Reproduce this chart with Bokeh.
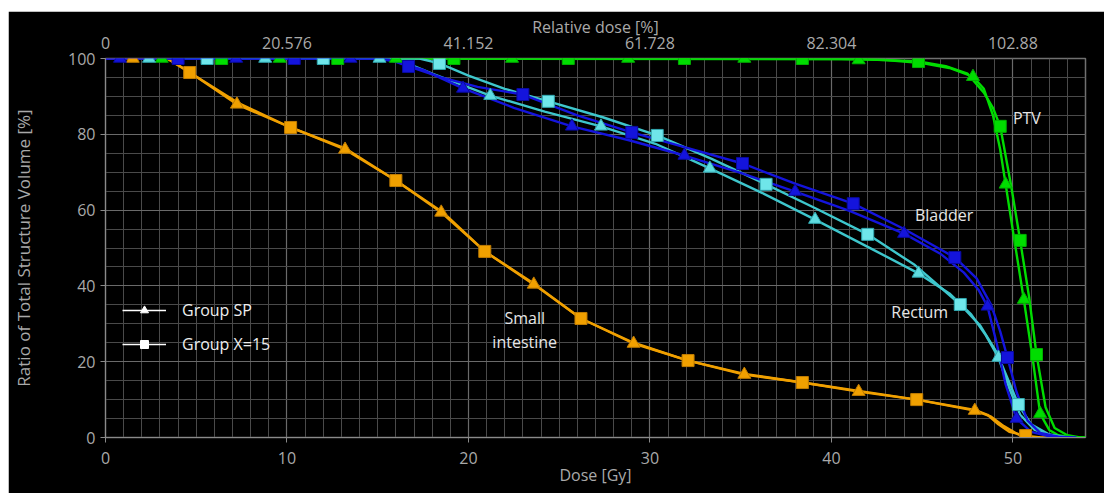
from bokeh.plotting import figure
from bokeh.models import (LinearAxis, FixedTicker, Legend, LegendItem, Range1d,
                          SingleIntervalTicker, ColumnDataSource, Spacer)
from bokeh.layouts import row, column
from bokeh.core.properties import value
from bokeh.embed import file_html
from bokeh.resources import INLINE

# ---------------- data ----------------
# Small intestine
si_sp_dose = [0, 3.4, 4.6, 7.24, 10.2, 13.2, 16.0, 18.5, 20.9, 23.6, 26.2, 29.1, 32.1, 35.2, 38.4, 41.5, 44.7, 47.9, 48.8, 49.5, 50.3, 51.0, 52.0]
si_sp_vol = [100, 100, 96.5, 87.9, 81.8, 76.0, 67.8, 59.4, 49.1, 40.4, 31.4, 24.8, 20.3, 16.6, 14.5, 12.1, 10.0, 7.1, 5.5, 3.0, 0.8, 0.1, 0]
si_x15_dose = [0, 3.4, 4.64, 7.3, 10.2, 13.2, 16.0, 18.6, 20.9, 23.6, 26.2, 29.1, 32.1, 35.2, 38.4, 41.5, 44.7, 47.9, 48.6, 49.2, 49.8, 50.7, 51.5]
si_x15_vol = [100, 100, 96.3, 88.3, 81.8, 76.3, 67.8, 59.4, 49.1, 40.6, 31.4, 25.0, 20.3, 16.8, 14.5, 12.3, 10.0, 7.3, 6.0, 3.5, 1.5, 0.5, 0]
si_sp_mk_dose = [1.5, 7.24, 13.2, 18.5, 23.6, 29.1, 35.2, 41.5, 47.9]
si_sp_mk_vol = [100, 87.9, 76.0, 59.4, 40.4, 24.8, 16.6, 12.1, 7.1]
si_x15_mk_dose = [4.64, 10.2, 16.0, 20.9, 26.2, 32.1, 38.4, 44.7, 50.7]
si_x15_mk_vol = [96.3, 81.8, 67.8, 49.1, 31.4, 20.3, 14.5, 10.0, 0.5]

# Bladder
bl_sp_dose = [0, 15.0, 16.0, 17.5, 19.7, 22.5, 25.7, 28.8, 31.9, 35.0, 38.0, 41.0, 44.0, 46.0, 47.3, 48.1, 48.6, 49.1, 49.6, 50.2, 51.0, 52.0, 53.0]
bl_sp_vol = [100, 100, 99.2, 97.0, 92.1, 87.0, 82.1, 78.5, 74.4, 69.8, 64.9, 59.8, 53.8, 48.5, 43.5, 39.0, 34.6, 25.0, 14.0, 5.0, 1.5, 0.3, 0]
bl_x15_dose = [0, 15.5, 16.7, 18.5, 20.5, 23.0, 26.0, 29.0, 32.0, 35.1, 38.0, 41.2, 44.0, 46.8, 48.0, 48.8, 49.3, 49.7, 50.2, 50.8, 51.5, 52.5, 53.5]
bl_x15_vol = [100, 100, 97.9, 95.0, 92.5, 90.5, 85.0, 80.5, 76.5, 72.3, 67.0, 61.7, 55.0, 47.5, 42.0, 35.0, 28.0, 21.1, 12.0, 4.5, 1.2, 0.2, 0]
bl_sp_mk_dose = [0.8, 7.2, 13.5, 19.7, 25.7, 31.9, 38.0, 44.0, 48.6, 50.2]
bl_sp_mk_vol = [100, 100, 100, 92.1, 82.1, 74.4, 64.9, 53.8, 34.6, 5.0]
bl_x15_mk_dose = [4.0, 10.4, 16.7, 23.0, 29.0, 35.1, 41.2, 46.8, 49.7]
bl_x15_mk_vol = [100, 100, 97.9, 90.5, 80.5, 72.3, 61.7, 47.5, 21.1]

# Rectum
re_sp_dose = [0, 15.1, 16.5, 18.0, 21.2, 24.2, 27.3, 30.3, 33.3, 36.2, 39.1, 42.0, 44.8, 46.5, 47.7, 48.5, 49.2, 49.8, 50.4, 51.2, 52.2, 53.0]
re_sp_vol = [100, 100, 99.0, 96.0, 90.2, 86.0, 82.1, 77.5, 71.0, 64.5, 57.5, 50.3, 43.3, 38.0, 32.5, 27.0, 21.1, 13.0, 6.0, 2.0, 0.4, 0]
re_x15_dose = [0, 17.3, 18.4, 20.0, 22.0, 24.4, 27.4, 30.4, 33.4, 36.4, 39.2, 42.0, 44.6, 47.1, 48.2, 49.1, 49.8, 50.3, 51.0, 52.0, 53.0]
re_x15_vol = [100, 100, 98.7, 95.5, 92.0, 88.7, 84.5, 79.7, 73.5, 66.8, 60.3, 53.6, 45.5, 35.1, 29.5, 22.5, 14.5, 8.7, 3.5, 0.8, 0]
re_sp_mk_dose = [2.4, 8.8, 15.1, 21.2, 27.3, 33.3, 39.1, 44.8, 49.2]
re_sp_mk_vol = [100, 100, 100, 90.2, 82.1, 71.0, 57.5, 43.3, 21.1]
re_x15_mk_dose = [5.6, 12.0, 18.4, 24.4, 30.4, 36.4, 42.0, 47.1, 50.3]
re_x15_mk_vol = [100, 100, 98.7, 88.7, 79.7, 66.8, 53.6, 35.1, 8.7]

# PTV
ptv_sp_dose = [0, 40.0, 43.0, 45.0, 46.5, 47.8, 48.4, 48.9, 49.3, 49.6, 50.1, 50.6, 51.1, 51.5, 52.0, 52.5, 53.3, 54.0]
ptv_sp_vol = [100, 100, 99.6, 98.8, 97.5, 95.2, 92.0, 85.0, 76.0, 66.8, 51.5, 36.4, 20.5, 6.3, 2.0, 0.6, 0, 0]
ptv_x15_dose = [0, 42.0, 44.8, 46.3, 47.5, 48.4, 48.9, 49.3, 49.9, 50.4, 50.9, 51.3, 51.8, 52.3, 53.0, 53.7, 54.0]
ptv_x15_vol = [100, 99.8, 99.2, 98.0, 96.0, 91.0, 87.0, 82.1, 66.5, 52.0, 36.8, 21.9, 8.0, 2.5, 0.6, 0, 0]
ptv_sp_mk_dose = [3.1, 9.6, 16.0, 22.4, 28.8, 35.2, 41.5, 47.8, 49.6, 50.6, 51.5]
ptv_sp_mk_vol = [100, 100, 100, 100, 100, 100, 99.6, 95.2, 66.8, 36.4, 6.3]
ptv_x15_mk_dose = [6.4, 12.8, 19.2, 25.5, 31.9, 38.4, 44.8, 49.3, 50.4, 51.3]
ptv_x15_mk_vol = [100, 100, 100, 100, 100, 100, 99.2, 82.1, 52.0, 21.9]

# axis ticks
bottom_ticks = [0, 10, 20, 30, 40, 50]
top_tick_labels = ["0", "20.576", "41.152", "61.728", "82.304", "102.88"]

# structure labels
lab_x = [50.0, 44.6, 43.3]
lab_y = [84.4, 58.8, 33.0]
lab_text = ["PTV", "Bladder", "Rectum"]
si_lab_x = [23.1]
si_lab_y = [28.3]
si_lab_text = ["Small\nintestine"]

legend_labels = ["Group SP", "Group X=15"]

# ---------------- styling ----------------
FONT = "Open Sans"
TICK_COL = "#a9a9a9"
C_PTV = "#00dd00"
C_BL = "#1414dc"
C_RE = "#3ec6cc"
C_SI = "#f0a000"

p = figure(width=1096, height=482, output_backend="svg", toolbar_location=None,
           x_range=Range1d(0, 54), y_range=Range1d(0, 100),
           min_border_left=97, min_border_right=19, min_border_top=47, min_border_bottom=56,
           background_fill_color="black", border_fill_color="black",
           outline_line_color="#707070", outline_line_width=1.5)

p.xaxis.ticker = SingleIntervalTicker(interval=10, num_minor_ticks=10)
p.yaxis.ticker = SingleIntervalTicker(interval=20, num_minor_ticks=4)

for ax in (p.xaxis[0], p.yaxis[0]):
    ax.axis_line_color = "#8a8a8a"
    ax.major_tick_line_color = "#8a8a8a"
    ax.minor_tick_line_color = None
    ax.major_tick_out = 5
    ax.major_tick_in = 0
    ax.major_label_text_color = TICK_COL
    ax.major_label_text_font = FONT
    ax.major_label_text_font_size = "16px"
    ax.axis_label_text_color = TICK_COL
    ax.axis_label_text_font = FONT
    ax.axis_label_text_font_size = "16px"
    ax.axis_label_text_font_style = "normal"

p.xaxis.axis_label = "Dose [Gy]"
p.xaxis.axis_label_standoff = -3
p.xaxis.major_label_standoff = 9
p.yaxis.axis_label = "Ratio of Total Structure Volume [%]"
p.yaxis.axis_label_text_font_size = "17px"
p.yaxis.axis_label_standoff = 30
p.yaxis.major_label_standoff = 5

top = LinearAxis(ticker=FixedTicker(ticks=bottom_ticks),
                 major_label_overrides={t: l for t, l in zip(bottom_ticks, top_tick_labels)},
                 axis_label="Relative dose [%]")
top.axis_line_color = None
top.major_tick_line_color = None
top.minor_tick_line_color = None
top.major_label_text_color = TICK_COL
top.major_label_text_font = FONT
top.major_label_text_font_size = "16px"
top.major_label_standoff = 4
top.axis_label_text_color = TICK_COL
top.axis_label_text_font = FONT
top.axis_label_text_font_size = "16px"
top.axis_label_text_font_style = "normal"
top.axis_label_standoff = -4
p.add_layout(top, "above")

p.xgrid.grid_line_color = "#6a6a6a"
p.ygrid.grid_line_color = "#6a6a6a"
p.xgrid.minor_grid_line_color = "#4a4a4a"
p.ygrid.minor_grid_line_color = "#4a4a4a"
p.xgrid.grid_line_width = 1.2
p.ygrid.grid_line_width = 1.2

# ---------------- curves ----------------
LW = 2.4
p.line(ptv_sp_dose, ptv_sp_vol, line_color=C_PTV, line_width=LW)
p.line(ptv_x15_dose, ptv_x15_vol, line_color=C_PTV, line_width=LW)
p.line(re_sp_dose, re_sp_vol, line_color=C_RE, line_width=LW)
p.line(re_x15_dose, re_x15_vol, line_color=C_RE, line_width=LW)
p.line(si_sp_dose, si_sp_vol, line_color=C_SI, line_width=LW)
p.line(si_x15_dose, si_x15_vol, line_color=C_SI, line_width=LW)
p.line(bl_sp_dose, bl_sp_vol, line_color=C_BL, line_width=LW)
p.line(bl_x15_dose, bl_x15_vol, line_color=C_BL, line_width=LW)

TS = 13
SS = 12
p.scatter(ptv_sp_mk_dose, ptv_sp_mk_vol, marker="triangle", size=TS, fill_color=C_PTV, line_color="#00b000")
p.scatter(ptv_x15_mk_dose, ptv_x15_mk_vol, marker="square", size=SS, fill_color=C_PTV, line_color="#00b000")
p.scatter(re_sp_mk_dose, re_sp_mk_vol, marker="triangle", size=TS, fill_color="#5fdce0", line_color="#30a8b0")
p.scatter(re_x15_mk_dose, re_x15_mk_vol, marker="square", size=SS, fill_color="#6fe6ea", line_color="#30a8b0")
p.scatter(si_sp_mk_dose, si_sp_mk_vol, marker="triangle", size=TS, fill_color=C_SI, line_color="#c07c00")
p.scatter(si_x15_mk_dose, si_x15_mk_vol, marker="square", size=SS, fill_color=C_SI, line_color="#c07c00")
p.scatter(bl_sp_mk_dose, bl_sp_mk_vol, marker="triangle", size=TS, fill_color=C_BL, line_color="#0a0aa0")
p.scatter(bl_x15_mk_dose, bl_x15_mk_vol, marker="square", size=SS, fill_color=C_BL, line_color="#0a0aa0")

# ---------------- labels ----------------
p.text(lab_x, lab_y, text=lab_text, text_color="#e6e6e6", text_font=value(FONT),
       text_font_size="16px", text_align="left", text_baseline="middle")
p.text(si_lab_x, si_lab_y, text=si_lab_text, text_color="#e6e6e6", text_font=value(FONT),
       text_font_size="16px", text_align="center", text_baseline="middle", text_line_height=1.1)

# ---------------- legend ----------------
nan = float("nan")
dummy = ColumnDataSource(data=dict(x=[nan], y=[nan]))
l1 = p.line("x", "y", source=dummy, line_color="white", line_width=1.5)
m1 = p.scatter("x", "y", source=dummy, marker="triangle", size=10, fill_color="white", line_color="white")
l2 = p.line("x", "y", source=dummy, line_color="white", line_width=1.5)
m2 = p.scatter("x", "y", source=dummy, marker="square", size=9, fill_color="white", line_color="white")
legend = Legend(items=[LegendItem(label=legend_labels[0], renderers=[l1, m1]),
                       LegendItem(label=legend_labels[1], renderers=[l2, m2])],
                location=(17, 82), padding=0, margin=0, spacing=12,
                glyph_width=44, glyph_height=20, label_standoff=16,
                label_text_color="#eeeeee", label_text_font=FONT, label_text_font_size="16px",
                background_fill_alpha=0, border_line_alpha=0)
p.add_layout(legend, "center")

layout = row(Spacer(width=8), column(Spacer(height=11), p))
open("out.html", "w").write(file_html(layout, INLINE))
